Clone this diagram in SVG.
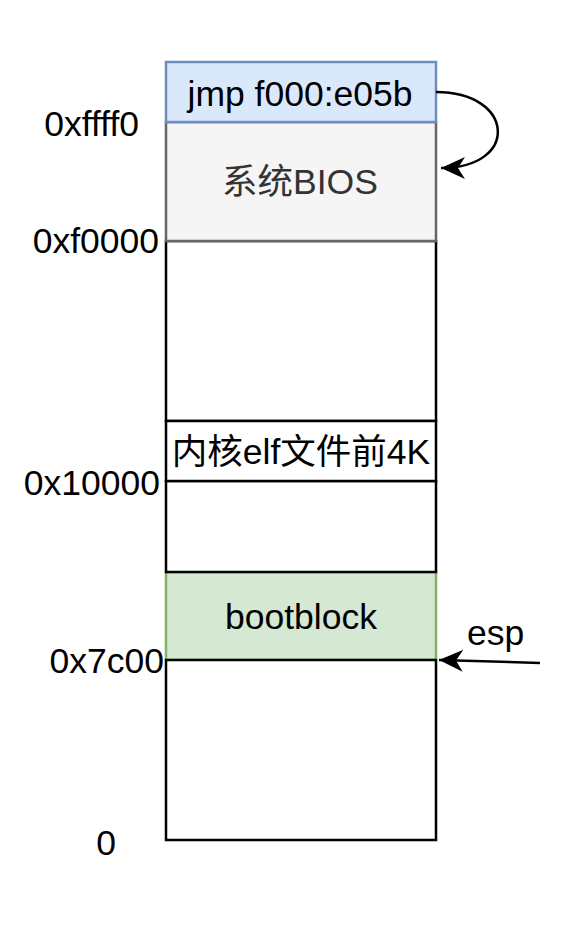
<svg xmlns="http://www.w3.org/2000/svg" width="576" height="936" viewBox="0 0 576 936">
<style>
text{font-family:"Liberation Sans",Arial,"Noto Sans CJK SC",sans-serif;font-size:35.5px;fill:#000}
.c{text-anchor:middle}
.r{text-anchor:end}
.box{stroke-width:2.5}
.edge{fill:none;stroke:#000;stroke-width:2.5}
</style>
<defs>
<marker id="ah" markerWidth="28" markerHeight="24" viewBox="0 0 28 24" refX="26" refY="12" orient="auto" markerUnits="userSpaceOnUse">
<path d="M26,12 L2,1 L9,12 L2,23 Z" fill="#000"/>
</marker>
</defs>
<rect width="576" height="936" fill="#fff"/>
<g id="n-bootblock"><rect class="box" x="166" y="572" width="270" height="88" fill="#d5e8d4" stroke="#82b366"/><text class="c" x="301" y="629">bootblock</text></g>
<g id="n-bottom"><rect class="box" x="166" y="660" width="270" height="180" fill="#fff" stroke="#000"/></g>
<g id="n-mid"><rect class="box" x="166" y="481" width="270" height="91" fill="#fff" stroke="#000"/></g>
<g id="n-upper"><rect class="box" x="166" y="241" width="270" height="180" fill="#fff" stroke="#000"/></g>
<g id="n-kernel"><rect class="box" x="166" y="421" width="270" height="60" fill="#fff" stroke="#000"/><text class="c" x="301" y="464">内核elf文件前4K</text></g>
<g id="n-bios"><rect class="box" x="166" y="122" width="270" height="119" fill="#f5f5f5" stroke="#666"/><text class="c" x="300" y="194" style="fill:#333">系统BIOS</text></g>
<g id="n-jmp"><rect class="box" x="166" y="62" width="270" height="60" fill="#dae8fc" stroke="#6c8ebf"/><text class="c" x="300" y="106">jmp f000:e05b</text></g>
<g id="labels">
<text class="r" x="139" y="136">0xffff0</text>
<text class="r" x="159" y="253">0xf0000</text>
<text class="r" x="160" y="495">0x10000</text>
<text class="r" x="164" y="673">0x7c00</text>
<text class="c" x="106" y="855">0</text>
<text x="467" y="645">esp</text>
</g>
<g id="connectors">
<path class="edge" d="M436,92 C515,92 520,168 441,168" marker-end="url(#ah)"/>
<path class="edge" d="M540,663 L439,660" marker-end="url(#ah)"/>
</g>
</svg>
